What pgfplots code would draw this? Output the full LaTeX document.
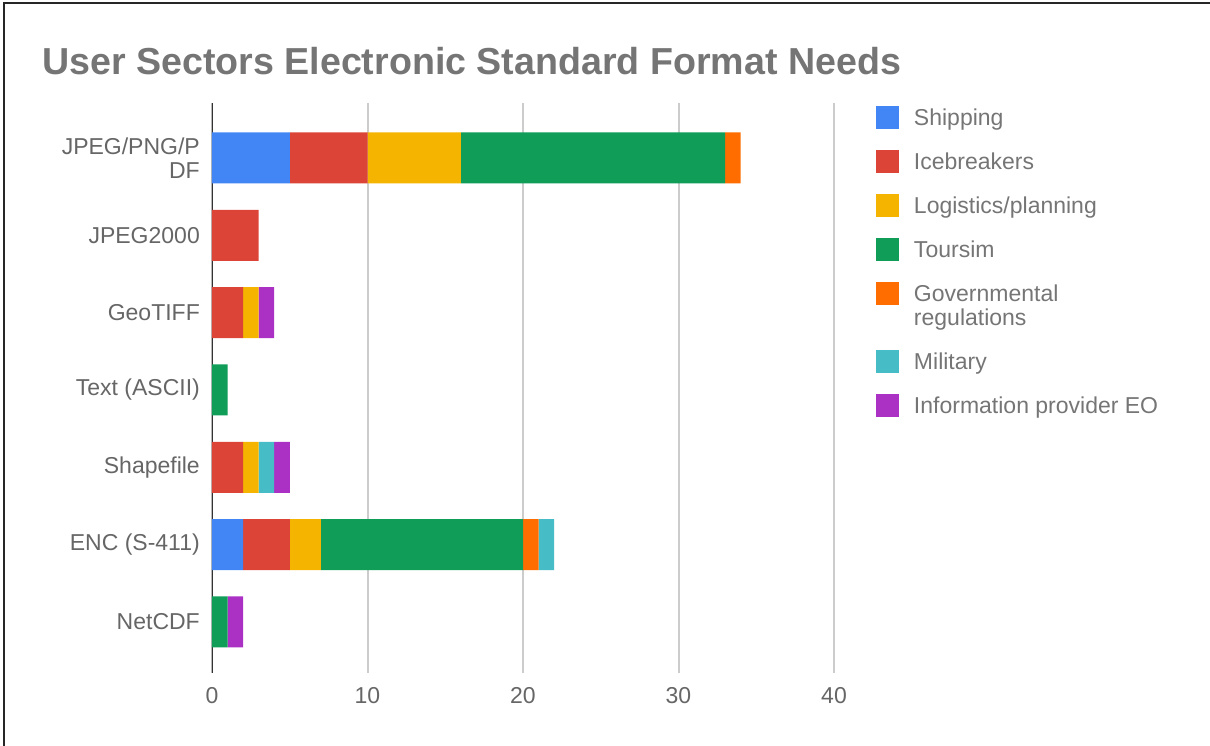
\documentclass[border=0pt]{standalone}
\usepackage{fontspec}
\setmainfont{Liberation Sans}
\usepackage{pgfplots}
\pgfplotsset{compat=1.18}

\definecolor{cShip}{HTML}{4285F4}
\definecolor{cIce}{HTML}{DB4437}
\definecolor{cLog}{HTML}{F4B400}
\definecolor{cTour}{HTML}{0F9D58}
\definecolor{cGov}{HTML}{FF6D00}
\definecolor{cMil}{HTML}{46BDC6}
\definecolor{cInfo}{HTML}{AB30C4}
\definecolor{titlegray}{HTML}{757575}
\definecolor{labelgray}{HTML}{666666}
\definecolor{gridgray}{HTML}{CCCCCC}
\definecolor{axisdark}{HTML}{333333}

\begin{document}
\begin{tikzpicture}
\path[use as bounding box] (0pt,0pt) rectangle (1210pt,746pt);
\draw[black!85, line width=2pt] (4pt,0pt) -- (4pt,743pt) -- (1210pt,743pt);
\node[anchor=base west, inner sep=0pt, text=titlegray,
      font=\fontsize{37.6}{40}\selectfont\bfseries]
  at (42pt,671pt) {User Sectors Electronic Standard Format Needs};

\begin{axis}[
  at={(212pt,73pt)}, anchor=south west,
  scale only axis, width=622pt, height=570pt,
  xbar stacked, bar width=51pt,
  xmin=0, xmax=40, ymin=-0.711, ymax=6.66, y dir=reverse,
  xtick={0,10,20,30,40}, ytick={0,...,6},
  yticklabels={{JPEG/PNG/P\\DF},JPEG2000,GeoTIFF,Text (ASCII),Shapefile,ENC (S-411),NetCDF},
  major tick length=0pt,
  axis line style={draw=none},
  xmajorgrids, major grid style={draw=gridgray, line width=2pt},
  /pgf/number format/assume math mode=true,
  tick label style={font=\fontsize{23}{24}\selectfont, text=labelgray, inner sep=0pt},
  yticklabel style={anchor=east, align=right, xshift=-12pt},
  xticklabel style={anchor=north, yshift=-14pt},
  legend image code/.code={
    \fill[#1] (0pt,-3.5pt) rectangle (23pt,19.5pt);
    \path (38pt,0pt);
  },
  legend style={at={(1.0675,1.0053)}, anchor=north west,
    draw=none, fill=none, inner sep=0pt, outer sep=0pt,
    row sep=0pt, column sep=0pt,
    font=\fontsize{23}{24}\selectfont, text=titlegray,
    cells={anchor=base west},
    nodes={inner sep=0pt, anchor=base west, text height=26pt, text depth=18pt, align=left}},
]
% categories top to bottom: JPEG/PNG/PDF, JPEG2000, GeoTIFF, Text, Shapefile, ENC, NetCDF
\addplot[fill=cShip, draw=none] coordinates {(5,0) (0,1) (0,2) (0,3) (0,4) (2,5) (0,6)};
\addlegendentry{Shipping}
\addplot[fill=cIce, draw=none] coordinates {(5,0) (3,1) (2,2) (0,3) (2,4) (3,5) (0,6)};
\addlegendentry{Icebreakers}
\addplot[fill=cLog, draw=none] coordinates {(6,0) (0,1) (1,2) (0,3) (1,4) (2,5) (0,6)};
\addlegendentry{Logistics/planning}
\addplot[fill=cTour, draw=none] coordinates {(17,0) (0,1) (0,2) (1,3) (0,4) (13,5) (1,6)};
\addlegendentry{Toursim}
\addplot[fill=cGov, draw=none] coordinates {(1,0) (0,1) (0,2) (0,3) (0,4) (1,5) (0,6)};
% two-line entry: swatch beside the first line
\addlegendentry[text height=50pt, text depth=18pt, yshift=-24pt]{Governmental\\regulations}
\addplot[fill=cMil, draw=none] coordinates {(0,0) (0,1) (0,2) (0,3) (1,4) (1,5) (0,6)};
\addlegendentry{Military}
\addplot[fill=cInfo, draw=none] coordinates {(0,0) (0,1) (1,2) (0,3) (1,4) (0,5) (1,6)};
\addlegendentry{Information provider EO}
% vertical axis line at zero, drawn over the bars
\draw[axisdark, line width=2.5pt] (rel axis cs:0,0) -- (rel axis cs:0,1);
\end{axis}
\end{tikzpicture}
\end{document}
